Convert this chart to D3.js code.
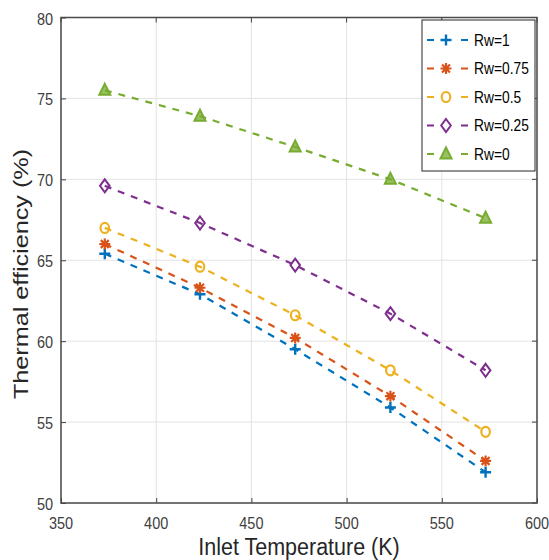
<!DOCTYPE html>
<html>
<head>
<meta charset="utf-8">
<script src="https://cdn.jsdelivr.net/npm/d3@7"></script>
<style>
  html, body { margin: 0; padding: 0; background: #fff; }
  svg { display: block; }
  text { font-family: "Liberation Sans", Arial, sans-serif; }
</style>
</head>
<body>
<svg id="chart" width="549" height="560"></svg>
<script>
const temperatures = [373, 423, 473, 523, 573];
const seriesNames = ["Rw=1", "Rw=0.75", "Rw=0.5", "Rw=0.25", "Rw=0"];
const rw1   = [65.4, 62.9, 59.5, 55.9, 51.9];
const rw075 = [66.0, 63.3, 60.2, 56.6, 52.6];
const rw05  = [67.0, 64.6, 61.6, 58.2, 54.4];
const rw025 = [69.6, 67.3, 64.7, 61.7, 58.2];
const rw0   = [75.5, 73.9, 72.0, 70.0, 67.6];
const seriesValues = [rw1, rw075, rw05, rw025, rw0];
const colors = ["#0072BD", "#D95319", "#EDB120", "#7E2F8E", "#77AC30"];
const markers = ["plus", "star", "circle", "diamond", "triangle"];
const xTicks = [350, 400, 450, 500, 550, 600];
const yTicks = [50, 55, 60, 65, 70, 75, 80];

const svg = d3.select("#chart");
const L = 61, R = 537, T = 17.5, B = 503;
const SY = 1.18; // vertical stretch of the reference text
const x = d3.scaleLinear().domain([350, 600]).range([L, R]);
const y = d3.scaleLinear().domain([50, 80]).range([B, T]);

// grid
const grid = svg.append("g");
grid.selectAll("line.gx").data(xTicks).join("line")
  .attr("x1", d => x(d)).attr("x2", d => x(d)).attr("y1", T).attr("y2", B)
  .attr("stroke", "#e3e3e3").attr("stroke-width", 1);
grid.selectAll("line.gy").data(yTicks).join("line")
  .attr("y1", d => y(d)).attr("y2", d => y(d)).attr("x1", L).attr("x2", R)
  .attr("stroke", "#e3e3e3").attr("stroke-width", 1);

// axes (ticks via d3 axes, labels placed with a vertical stretch)
const tickColor = "#404040";
const xAxis = d3.axisBottom(x).tickValues(xTicks).tickSize(-5).tickFormat("");
const yAxis = d3.axisLeft(y).tickValues(yTicks).tickSize(-5).tickFormat("");
const gx = svg.append("g").attr("transform", `translate(0,${B})`).call(xAxis);
const gy = svg.append("g").attr("transform", `translate(${L},0)`).call(yAxis);
[gx, gy].forEach(g => {
  g.select(".domain").remove();
  g.selectAll(".tick line").attr("stroke", tickColor).attr("stroke-width", 1);
  g.selectAll(".tick text").remove();
});
svg.append("g").selectAll("text").data(xTicks).join("text")
  .attr("transform", d => `translate(${x(d)},${B + 26}) scale(1,${SY})`)
  .attr("text-anchor", "middle").attr("fill", tickColor).style("font-size", "14.5px")
  .text(d => d);
svg.append("g").selectAll("text").data(yTicks).join("text")
  .attr("transform", d => `translate(${L - 8},${y(d) + 7}) scale(1,${SY})`)
  .attr("text-anchor", "end").attr("fill", tickColor).style("font-size", "14.5px")
  .text(d => d);

// top & right ticks
svg.append("g").selectAll("line").data(xTicks).join("line")
  .attr("x1", d => x(d)).attr("x2", d => x(d)).attr("y1", T).attr("y2", T + 5)
  .attr("stroke", tickColor);
svg.append("g").selectAll("line").data(yTicks).join("line")
  .attr("y1", d => y(d)).attr("y2", d => y(d)).attr("x1", R).attr("x2", R - 5)
  .attr("stroke", tickColor);
// box
svg.append("rect").attr("x", L).attr("y", T).attr("width", R - L).attr("height", B - T)
  .attr("fill", "none").attr("stroke", "#4a4a4a").attr("stroke-width", 1.5);

// axis labels
svg.append("text").attr("transform", `translate(${(L + R) / 2},555) scale(1,1.15)`)
  .attr("text-anchor", "middle")
  .style("font-size", "21.5px").attr("fill", "#262626").text("Inlet Temperature (K)");
svg.append("text").attr("transform", `translate(28,274) rotate(-90) scale(1.2,1)`)
  .attr("text-anchor", "middle").style("font-size", "21px").attr("fill", "#262626")
  .text("Thermal efficiency (%)");

function drawMarker(g, type, cx, cy, color) {
  const s = 5.5;
  if (type === "plus") {
    g.append("path").attr("d", `M${cx - s},${cy}H${cx + s}M${cx},${cy - s}V${cy + s}`)
      .attr("stroke", color).attr("stroke-width", 2.4).attr("fill", "none");
  } else if (type === "star") {
    const d = s * 0.72;
    g.append("path").attr("d", `M${cx - s},${cy}H${cx + s}M${cx},${cy - s}V${cy + s}M${cx - d},${cy - d}L${cx + d},${cy + d}M${cx - d},${cy + d}L${cx + d},${cy - d}`)
      .attr("stroke", color).attr("stroke-width", 2.2).attr("fill", "none");
  } else if (type === "circle") {
    g.append("ellipse").attr("cx", cx).attr("cy", cy).attr("rx", 4.3).attr("ry", 5)
      .attr("stroke", color).attr("stroke-width", 2.2).attr("fill", "none");
  } else if (type === "diamond") {
    g.append("path").attr("d", `M${cx},${cy - 6.5}L${cx + 4.8},${cy}L${cx},${cy + 6.5}L${cx - 4.8},${cy}Z`)
      .attr("stroke", color).attr("stroke-width", 2).attr("fill", "none");
  } else if (type === "triangle") {
    g.append("path").attr("d", `M${cx},${cy - 6.5}L${cx + 5.5},${cy + 4.5}L${cx - 5.5},${cy + 4.5}Z`)
      .attr("stroke", color).attr("stroke-width", 2).attr("fill", color).attr("fill-opacity", 0.75);
  }
}

// series
const line = d3.line().x((d, i) => x(temperatures[i])).y(d => y(d));
seriesValues.forEach((vals, k) => {
  const g = svg.append("g");
  g.append("path").datum(vals).attr("d", line)
    .attr("fill", "none").attr("stroke", colors[k]).attr("stroke-width", 2.2)
    .attr("stroke-dasharray", "7,7");
  vals.forEach((v, i) => drawMarker(g, markers[k], x(temperatures[i]), y(v), colors[k]));
});

// legend
const lg = svg.append("g");
lg.append("rect").attr("x", 422).attr("y", 20).attr("width", 113).attr("height", 151)
  .attr("fill", "#fff").attr("stroke", "#262626").attr("stroke-width", 1);
seriesNames.forEach((name, k) => {
  const yy = 40 + k * 28.5;
  lg.append("line").attr("x1", 427).attr("x2", 468).attr("y1", yy).attr("y2", yy)
    .attr("stroke", colors[k]).attr("stroke-width", 2.2).attr("stroke-dasharray", "7,27");
  drawMarker(lg, markers[k], 446, yy, colors[k]);
  lg.append("text").attr("transform", `translate(474,${yy + 5.5}) scale(1,${SY})`)
    .style("font-size", "13.8px").attr("fill", "#000").text(name);
});
</script>
</body>
</html>
